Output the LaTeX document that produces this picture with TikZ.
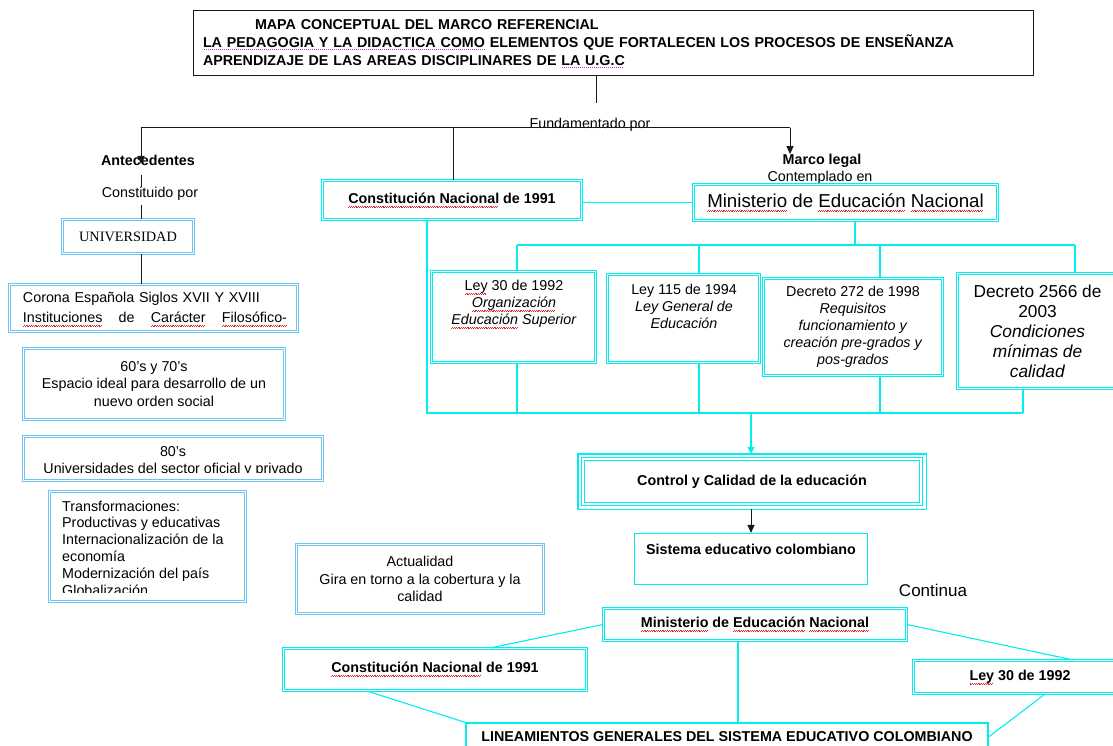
\documentclass[tikz,border=0pt]{standalone}
\usepackage{fontspec}
\setmainfont{Liberation Sans}
\newfontfamily\serifuni{Liberation Serif}
\usetikzlibrary{arrows.meta}
\definecolor{cy}{RGB}{0,238,238}
\definecolor{lb}{RGB}{110,195,245}
\definecolor{ln}{RGB}{25,25,25}
\definecolor{sqred}{RGB}{225,40,40}
\definecolor{sqpur}{RGB}{170,60,200}
\newcommand\fs{\fontsize{14.3}{17}\selectfont}
\newcommand\sq[1]{\setbox0\hbox{#1}\leavevmode\rlap{\raisebox{-4pt}{\hbox to \wd0{\color{sqred}\leaders\hbox{\vrule width .9pt height .6pt depth 0pt\raise .9pt\hbox{\vrule width .9pt height .6pt depth 0pt}}\hfill}}}\box0\relax}
\newcommand\dq[1]{\setbox0\hbox{#1}\leavevmode\rlap{\raisebox{-2.5pt}{\hbox to \wd0{\color{sqpur}\leaders\hbox to 2pt{\hss\vrule width .8pt height .8pt\hss}\hfill}}}\box0\relax}
\begin{document}
\begin{tikzpicture}[x=1pt,y=-1pt,
  every node/.style={font=\fs, inner sep=0pt},
  cbox/.style={draw=cy, double=white, double distance=1.5pt, line width=1.1pt, align=center},
  lbox/.style={draw=lb, double=white, double distance=1.2pt, line width=0.9pt, align=center},
  sbox/.style={draw=cy, line width=1.1pt},
  blk/.style={draw=ln, line width=1pt},
  cline/.style={draw=cy, line width=1.1pt},
  carrow/.style={cline, -{Triangle[width=7pt,length=7pt]}},
  barrow/.style={blk, -{Triangle[width=7pt,length=8pt]}}]
\useasboundingbox (0,0) rectangle (1113,746);
\clip (0,0) rectangle (1113,746);

% title
\node[blk, minimum width=840, minimum height=65, text width=820pt, align=left,
  font=\bfseries\fontsize{14.3}{18}\selectfont] (title) at (613,43.5)
  {\hspace*{52pt}MAPA CONCEPTUAL DEL MARCO REFERENCIAL\\\dq{LA PEDAGOGIA Y LA DIDACTICA COMO} ELEMENTOS QUE FORTALECEN LOS PROCESOS DE ENSEÑANZA\\APRENDIZAJE DE LAS AREAS DISCIPLINARES DE \dq{LA U.G.C}};

\node (fund) at (590,125) {Fundamentado por};
\node[font=\fs\bfseries] (ante) at (148,160) {Antecedentes};
\node (cons) at (150,194) {Constituido por};
\node[font=\fs\bfseries] (marco) at (822,161) {Marco legal};
\node (contem) at (820,178) {Contemplado en};

% left column
\node[lbox, minimum width=131, minimum height=34, font=\serifuni\fs] (univ) at (128,236.5) {UNIVERSIDAD};
\node[lbox, minimum width=288, minimum height=47] (corona) at (153.5,308) {};
\node[text width=264pt, align=left] (coronat) at (155,309.5)
  {Corona Española Siglos XVII Y XVIII\\[3pt]\makebox[264pt][l]{\sq{Instituciones}\hfill de\hfill \sq{Carácter}\hfill \sq{Filosófico-}}};
\node[lbox, minimum width=261, minimum height=71, font=\fontsize{14.3}{17.5}\selectfont] (sixties) at (154,384)
  {60's y 70's\\Espacio ideal para desarrollo de un\\nuevo orden social};
\node[lbox, minimum width=299, minimum height=44] (eighties) at (173,458.5) {};
\begin{scope}
  \clip (22,440) rectangle (324,472);
  \node[align=center] (eightiest) at (173,461.5) {80's\\Universidades del sector oficial y privado};
\end{scope}
\node[lbox, minimum width=196, minimum height=110] (transf) at (147.5,546.5) {};
\begin{scope}
  \clip (50,493) rectangle (245,592.5);
  \node[align=left, anchor=west, font=\fontsize{14.3}{16.8}\selectfont] (transft) at (62,548)
    {Transformaciones:\\Productivas y educativas\\Internacionalización de la\\economía\\Modernización del país\\Globalización};
\end{scope}
\node[lbox, minimum width=247, minimum height=69, font=\fontsize{14.3}{17.5}\selectfont] (actual) at (420,579)
  {Actualidad\\Gira en torno a la cobertura y la\\calidad};

% legal framework
\node[cbox, minimum width=259, minimum height=39, font=\fs\bfseries] (const1) at (452,200) {\sq{Constitución Nacional} de 1991};
\node[cbox, minimum width=304, minimum height=36, font=\fontsize{18.7}{22}\selectfont] (min1) at (845.5,202.5) {\sq{Ministerio} de \sq{Educación} \sq{Nacional}};
\node[cbox, minimum width=164, minimum height=91] (ley30) at (513.5,317) {};
\node[align=center] (ley30t) at (514,304) {\sq{Ley} 30 de 1992\\\textit{\sq{Organización}}\\\textit{\sq{Educación} Superior}};
\node[cbox, minimum width=152, minimum height=88] (ley115) at (683.5,318.5) {};
\node[align=center] (ley115t) at (684,306) {Ley 115 de 1994\\\textit{Ley General de}\\\textit{Educación}};
\node[cbox, minimum width=179, minimum height=97] (dec272) at (853,327)
  {Decreto 272 de 1998\\\textit{Requisitos}\\\textit{funcionamiento y}\\\textit{creación pre-grados y}\\\textit{pos-grados}};
\node[cbox, minimum width=160, minimum height=115, font=\fontsize{17.3}{20}\selectfont] (dec2566) at (1037.5,331)
  {Decreto 2566 de\\2003\\\textit{Condiciones}\\\textit{mínimas de}\\\textit{calidad}};
\node[cbox, minimum width=338, minimum height=45, font=\fs\bfseries] (ctrl) at (752,481.5) {Control y Calidad de la educación};
\draw[cline] ([shift={(-4.5pt,4.5pt)}]ctrl.north west) rectangle ([shift={(4.5pt,-4.5pt)}]ctrl.south east);
\node[sbox, minimum width=233, minimum height=51] (sist) at (751,559) {};
\node[font=\fs\bfseries] (sistt) at (751,549) {Sistema educativo colombiano};
\node[font=\fontsize{17}{20}\selectfont] (cont) at (933,590) {Continua};

% bottom part
\node[cbox, minimum width=303, minimum height=32, font=\fs\bfseries] (min2) at (755,624.5) {\sq{Ministerio} de \sq{Educación} \sq{Nacional}};
\node[cbox, minimum width=303, minimum height=42, font=\fs\bfseries] (const2) at (435,669.5) {\sq{Constitución Nacional} de 1991};
\node[cbox, minimum width=213, minimum height=33, font=\fs\bfseries] (ley30b) at (1020,677) {\sq{Ley} 30 de 1992};
\node[sbox, minimum width=522, minimum height=46] (lin) at (727,746) {};
\node[font=\fs\bfseries] (lint) at (727,737) {LINEAMIENTOS GENERALES DEL SISTEMA EDUCATIVO COLOMBIANO};

% black connectors
\coordinate (t1) at (596,103);
\coordinate (hl) at (141,128);
\coordinate (hm) at (453,128);
\coordinate (hr) at (790,128);
\coordinate (atip) at (141,164);
\coordinate (lx) at (141,0);
\draw[blk] (title.south -| t1) -- (t1);
\draw[blk] (hl) -- (hr);
\draw[barrow] (hl) -- (atip);
\draw[barrow] (hr) -- (hr |- marco.north);
\draw[blk] (hm) -- (hm |- const1.north);
\draw[blk, shorten <=10pt] (lx |- ante.south) -- (lx |- cons.north);
\draw[blk, shorten <=4pt] (lx |- cons.south) -- (lx |- univ.north);
\draw[blk] (lx |- univ.south) -- (lx |- corona.north);

% cyan connectors
\draw[cline] (const1.east |- min1.west) -- (min1.west);
\coordinate (mb) at (855,245);
\coordinate (b1) at (517,245);
\coordinate (b2) at (699,245);
\coordinate (b3) at (880,245);
\coordinate (b4) at (1075,245);
\draw[cline] (mb |- min1.south) -- (mb);
\draw[cline] (b1) -- (b4);
\draw[cline] (b1) -- (b1 |- ley30.north);
\draw[cline] (b2) -- (b2 |- ley115.north);
\draw[cline] (b3) -- (b3 |- dec272.north);
\draw[cline] (b4) -- (b4 |- dec2566.north);
\coordinate (c0) at (427,413);
\coordinate (c1) at (517,413);
\coordinate (c2) at (699,413);
\coordinate (c3) at (880,413);
\coordinate (c4) at (1023,413);
\coordinate (cm) at (751,413);
\draw[cline] (c0 |- const1.south) -- (c0) -- (c4);
\draw[cline] (c1) -- (c1 |- ley30.south);
\draw[cline] (c2) -- (c2 |- ley115.south);
\draw[cline] (c3) -- (c3 |- dec272.south);
\draw[cline] (c4) -- (c4 |- dec2566.south);
\draw[carrow, shorten >=4.5pt] (cm) -- (cm |- ctrl.north);
\draw[barrow, shorten <=4.5pt] (cm |- ctrl.south) -- (cm |- sist.north);

\coordinate (mv) at (738,0);
\draw[cline] ([xshift=55pt]const2.north) -- (min2.west);
\draw[cline] ([xshift=-68pt]const2.south) -- (lin.north west);
\draw[cline] (mv |- min2.south) -- (mv |- lin.north);
\draw[cline] (min2.east) -- ([xshift=53pt]ley30b.north);
\draw[cline] ([xshift=25pt]ley30b.south) -- ([yshift=9pt]lin.east);
\end{tikzpicture}
\end{document}
